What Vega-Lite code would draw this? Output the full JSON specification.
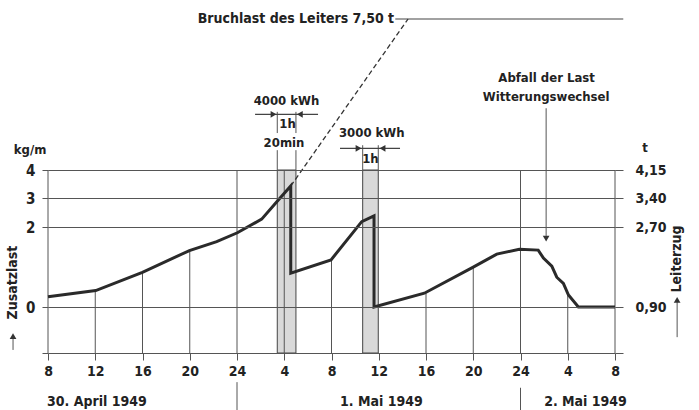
{
  "$schema": "https://vega.github.io/schema/vega-lite/v6.json",
  "width": 567,
  "height": 353,
  "autosize": {"type": "none"},
  "padding": {"left": 48, "top": 0, "right": 84, "bottom": 57},
  "background": "#ffffff",
  "config": {
    "view": {"stroke": null},
    "font": "DejaVu Sans Condensed, sans-serif",
    "text": {"font": "DejaVu Sans Condensed, sans-serif", "fontWeight": "bold", "fontSize": 13, "color": "#222222"}
  },
  "datasets": {
    "curve": [
      {"i": 1, "h": 0, "t": 1.13}, {"i": 2, "h": 4.04, "t": 1.27}, {"i": 3, "h": 7.99, "t": 1.68},
      {"i": 4, "h": 11.97, "t": 2.17}, {"i": 5, "h": 14.28, "t": 2.37}, {"i": 6, "h": 16.03, "t": 2.57},
      {"i": 7, "h": 18.09, "t": 2.89}, {"i": 8, "h": 19.5, "t": 3.35}, {"i": 9, "h": 20.55, "t": 3.72},
      {"i": 10, "h": 20.55, "t": 1.66}, {"i": 11, "h": 23.96, "t": 1.96}, {"i": 12, "h": 26.56, "t": 2.83},
      {"i": 13, "h": 27.6, "t": 2.97}, {"i": 14, "h": 27.6, "t": 0.9}, {"i": 15, "h": 31.86, "t": 1.21},
      {"i": 16, "h": 35.96, "t": 1.79}, {"i": 17, "h": 37.99, "t": 2.09}, {"i": 18, "h": 39.9, "t": 2.2},
      {"i": 19, "h": 41.5, "t": 2.18}, {"i": 20, "h": 41.94, "t": 2.0}, {"i": 21, "h": 42.65, "t": 1.82},
      {"i": 22, "h": 43.07, "t": 1.57}, {"i": 23, "h": 43.63, "t": 1.43}, {"i": 24, "h": 44.06, "t": 1.17},
      {"i": 25, "h": 44.9, "t": 0.9}, {"i": 26, "h": 48, "t": 0.9}
    ],
    "breakline": [{"i": 1, "h": 20.55, "t": 3.72}, {"i": 2, "h": 30.48, "t": 7.5}],
    "bars": [
      {"h": 19.41, "h2": 20.99, "t": 0, "t2": 4.15, "energy": "4000 kWh"},
      {"h": 26.64, "h2": 27.96, "t": 0, "t2": 4.15, "energy": "3000 kWh"}
    ],
    "vlines": [
      {"h": 0, "t": 0, "t2": 4.15}, {"h": 16, "t": 0, "t2": 4.15}, {"h": 20, "t": 0, "t2": 4.15},
      {"h": 40, "t": 0, "t2": 4.15}, {"h": 48, "t": 0, "t2": 4.15},
      {"h": 4, "t": 0, "t2": 1.27}, {"h": 8, "t": 0, "t2": 1.68}, {"h": 12, "t": 0, "t2": 2.17},
      {"h": 24, "t": 0, "t2": 1.96}, {"h": 32, "t": 0, "t2": 1.21}, {"h": 36, "t": 0, "t2": 1.79},
      {"h": 44, "t": 0, "t2": 1.17},
      {"h": 16, "t": -0.57, "t2": -1.12}, {"h": 40, "t": -0.68, "t2": -1.12},
      {"h": 42.17, "t": 2.5, "t2": 5.52},
      {"h": -2.96, "t": 0.06, "t2": 0.3}, {"h": 53.26, "t": 0.31, "t2": 1.05},
      {"h": 19.41, "t": 4.97, "t2": 5.44}, {"h": 20.99, "t": 4.97, "t2": 5.44},
      {"h": 19.41, "t": 4.15, "t2": 4.59}, {"h": 20.99, "t": 4.15, "t2": 4.59},
      {"h": 26.64, "t": 4.15, "t2": 4.7}, {"h": 27.96, "t": 4.15, "t2": 4.7}
    ],
    "hlines": [
      {"h": 17.53, "h2": 22.86, "t": 5.385},
      {"h": 24.72, "h2": 29.8, "t": 4.63},
      {"h": 29.4, "h2": 48.7, "t": 7.5}
    ],
    "heads": [
      {"h": 19.09, "t": 5.385, "dir": "right"}, {"h": 21.32, "t": 5.385, "dir": "left"},
      {"h": 26.29, "t": 4.63, "dir": "right"}, {"h": 28.32, "t": 4.63, "dir": "left"},
      {"h": 42.17, "t": 2.44, "dir": "down"}, {"h": -2.96, "t": 0.33, "dir": "up"},
      {"h": 53.26, "t": 1.06, "dir": "up"}
    ],
    "textCenter": [
      {"h": 20.19, "t": 5.69, "label": "4000 kWh"}, {"h": 20.28, "t": 5.16, "label": "1h"},
      {"h": 19.98, "t": 4.74, "label": "20min"}, {"h": 27.41, "t": 4.96, "label": "3000 kWh"},
      {"h": 27.29, "t": 4.39, "label": "1h"}, {"h": 42.21, "t": 6.18, "label": "Abfall der Last"},
      {"h": 42.17, "t": 5.78, "label": "Witterungswechsel"}, {"h": -1.52, "t": 4.59, "label": "kg/m"},
      {"h": 50.55, "t": 4.64, "label": "t"}
    ],
    "textRight": [{"h": 29.3, "t": 7.5, "label": "Bruchlast des Leiters 7,50 t"}],
    "textLeft": [
      {"h": -0.08, "t": -0.95, "label": "30. April 1949"},
      {"h": 24.72, "t": -0.95, "label": "1. Mai 1949"},
      {"h": 42.0, "t": -0.95, "label": "2. Mai 1949"}
    ],
    "textVertical": [
      {"h": -2.96, "t": 1.45, "label": "Zusatzlast"},
      {"h": 53.26, "t": 1.98, "label": "Leiterzug"}
    ]
  },
  "encoding": {
    "x": {
      "field": "h", "type": "quantitative",
      "scale": {"domain": [0, 48], "nice": false, "zero": false},
      "axis": {
        "values": [0, 4, 8, 12, 16, 20, 24, 28, 32, 36, 40, 44, 48],
        "labelExpr": "(datum.value + 8) % 24 == 0 ? '24' : '' + ((datum.value + 8) % 24)",
        "grid": false, "domain": false, "tickSize": 7, "tickColor": "#555555", "tickWidth": 1,
        "labelPadding": 4, "labelFontSize": 14, "labelFontWeight": "bold", "labelColor": "#222222",
        "labelFlush": false, "labelOverlap": false, "title": null
      }
    },
    "y": {
      "field": "t", "type": "quantitative",
      "scale": {"domain": [0, 0.9, 2.7, 3.4, 4.15, 7.5], "range": [353, 307, 227, 198, 170, 19], "nice": false, "zero": false},
      "axis": null
    }
  },
  "layer": [
    {
      "data": {"name": "bars"},
      "mark": {"type": "rect", "fill": "#d9d9d9", "stroke": "#444444", "strokeWidth": 1},
      "encoding": {
        "x2": {"field": "h2"},
        "y": {
          "field": "t", "type": "quantitative",
          "scale": {"domain": [0, 0.9, 2.7, 3.4, 4.15, 7.5], "range": [353, 307, 227, 198, 170, 19], "nice": false, "zero": false},
          "axis": {
            "orient": "left", "values": [0, 0.9, 2.7, 3.4, 4.15],
            "labelExpr": "datum.value == 0.9 ? '0' : datum.value == 2.7 ? '2' : datum.value == 3.4 ? '3' : datum.value == 4.15 ? '4' : ''",
            "grid": true, "gridColor": "#555555", "gridWidth": 1, "domain": false,
            "tickSize": 6, "tickColor": "#555555", "labelPadding": 7, "labelFontSize": 15,
            "labelFontWeight": "bold", "labelColor": "#222222", "title": null, "zindex": 1
          }
        },
        "y2": {"field": "t2"}
      }
    },
    {
      "data": {"name": "vlines"},
      "mark": {"type": "rule", "color": "#555555", "strokeWidth": 1},
      "encoding": {
        "y": {
          "field": "t", "type": "quantitative",
          "scale": {"domain": [0, 0.9, 2.7, 3.4, 4.15, 7.5], "range": [353, 307, 227, 198, 170, 19], "nice": false, "zero": false},
          "axis": {
            "orient": "right", "values": [0, 0.9, 2.7, 3.4, 4.15],
            "labelExpr": "datum.value == 0.9 ? '0,90' : datum.value == 2.7 ? '2,70' : datum.value == 3.4 ? '3,40' : datum.value == 4.15 ? '4,15' : ''",
            "grid": false, "domain": false, "tickSize": 8, "tickColor": "#555555", "labelPadding": 12,
            "labelFontSize": 14, "labelFontWeight": "bold", "labelColor": "#222222", "title": null
          }
        },
        "y2": {"field": "t2"}
      }
    },
    {
      "data": {"name": "hlines"},
      "mark": {"type": "rule", "color": "#444444", "strokeWidth": 1.2},
      "encoding": {"x2": {"field": "h2"}}
    },
    {
      "data": {"name": "breakline"},
      "mark": {"type": "line", "color": "#333333", "strokeWidth": 1.3, "strokeDash": [5, 3]},
      "encoding": {"order": {"field": "i", "type": "quantitative"}}
    },
    {
      "data": {"name": "curve"},
      "mark": {"type": "line", "color": "#2a2a2a", "strokeWidth": 3},
      "encoding": {"order": {"field": "i", "type": "quantitative"}}
    },
    {
      "data": {"name": "heads"},
      "mark": {"type": "point", "filled": true, "color": "#333333", "size": 45, "opacity": 1},
      "encoding": {
        "shape": {
          "field": "dir", "type": "nominal",
          "scale": {"domain": ["up", "down", "left", "right"], "range": ["triangle-up", "triangle-down", "triangle-left", "triangle-right"]},
          "legend": null
        }
      }
    },
    {
      "data": {"name": "textCenter"},
      "mark": {"type": "text", "align": "center", "baseline": "middle", "fontSize": 13},
      "encoding": {"text": {"field": "label"}}
    },
    {
      "data": {"name": "textRight"},
      "mark": {"type": "text", "align": "right", "baseline": "middle", "fontSize": 14},
      "encoding": {"text": {"field": "label"}}
    },
    {
      "data": {"name": "textLeft"},
      "mark": {"type": "text", "align": "left", "baseline": "middle", "fontSize": 14},
      "encoding": {"text": {"field": "label"}}
    },
    {
      "data": {"name": "textVertical"},
      "mark": {"type": "text", "align": "center", "baseline": "middle", "angle": 270, "fontSize": 14},
      "encoding": {"text": {"field": "label"}}
    }
  ],
  "resolve": {"axis": {"y": "independent"}}
}
